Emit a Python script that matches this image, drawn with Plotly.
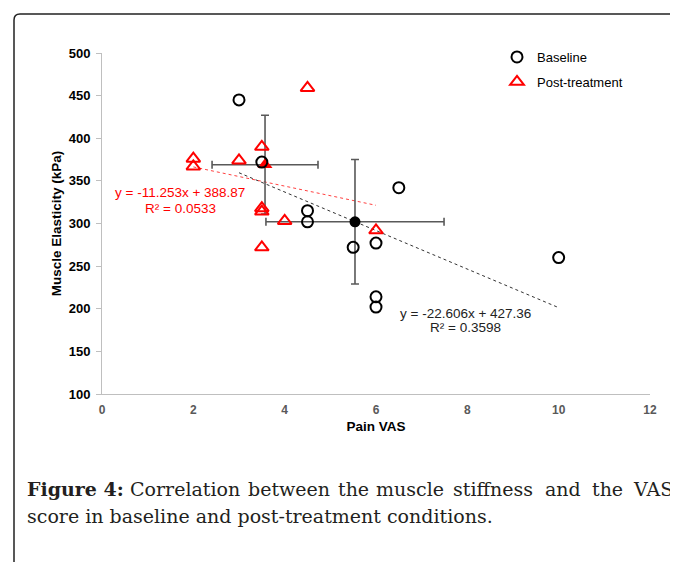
import plotly.graph_objects as go

# ---------------- data ----------------
baseline_vas = [3.0, 3.5, 4.5, 4.5, 5.5, 6.0, 6.0, 6.0, 6.5, 10.0]
baseline_kpa = [445, 372, 315, 302, 272, 277, 214, 202, 342, 260]
post_vas = [2.0, 2.0, 3.0, 3.5, 4.5, 3.5, 3.5, 3.5, 4.0, 6.0]
post_kpa = [376, 367, 374, 390, 459, 318, 314, 272, 303, 292]

baseline_mean_x = [5.54]
baseline_mean_y = [302]
baseline_sd_x = [1.95]
baseline_sd_y = [73]
post_mean_x = [3.57]
post_mean_y = [369]
post_sd_x = [1.16]
post_sd_y = [58]

baseline_fit = (-22.606, 427.36, 0.3598)
post_fit = (-11.253, 388.87, 0.0533)

x_ticks = [0, 2, 4, 6, 8, 10, 12]
y_ticks = [100, 150, 200, 250, 300, 350, 400, 450, 500]

# page body has an 8px margin; figure fills the rest of the 678x562 window
W, H = 670, 554
L, R, T, B = 94, 28, 45, 168
pw, ph = W - L - R, H - T - B


def px2paper(px, py):
    """window pixel -> paper coordinates"""
    return (px - 8 - L) / pw, (H - B - (py - 8)) / ph


fig = go.Figure()

# trendlines
def fit_line(xs, fit):
    x0, x1 = min(xs), max(xs)
    return [x0, x1], [fit[0] * x0 + fit[1], fit[0] * x1 + fit[1]]

bx, by = fit_line(baseline_vas, baseline_fit)
fig.add_trace(go.Scatter(x=bx, y=by, mode="lines", showlegend=False,
                         line=dict(color="#333333", width=1, dash="dot")))
rx, ry = fit_line(post_vas, post_fit)
fig.add_trace(go.Scatter(x=rx, y=ry, mode="lines", showlegend=False,
                         line=dict(color="#FF4040", width=1, dash="dot")))

# error bars (means)
err_style = dict(color="#595959", thickness=1.6, width=4)
fig.add_trace(go.Scatter(x=baseline_mean_x, y=baseline_mean_y, mode="markers",
                         showlegend=False,
                         marker=dict(symbol="circle", size=11, color="black"),
                         error_x=dict(type="data", array=baseline_sd_x, **err_style),
                         error_y=dict(type="data", array=baseline_sd_y, **err_style)))
fig.add_trace(go.Scatter(x=post_mean_x, y=post_mean_y, mode="markers",
                         showlegend=False,
                         marker=dict(symbol="triangle-up", size=13, color="#FF0000"),
                         error_x=dict(type="data", array=post_sd_x, **err_style),
                         error_y=dict(type="data", array=post_sd_y, **err_style)))

# individual points
fig.add_trace(go.Scatter(x=baseline_vas, y=baseline_kpa, mode="markers",
                         name="Baseline", legendgroup="a",
                         marker=dict(symbol="circle-open", size=11, color="black",
                                     line=dict(width=2, color="black"))))
fig.add_trace(go.Scatter(x=post_vas, y=post_kpa, mode="markers",
                         name="Post-treatment", legendgroup="b",
                         marker=dict(symbol="triangle-up-open", size=12, color="#FF0000",
                                     line=dict(width=2, color="#FF0000"))))

# equations
eq_font = "Liberation Sans, Arial"
fig.add_annotation(x=1.71, y=336, xref="x", yref="y", showarrow=False,
                   text=f"y = {post_fit[0]}x + {post_fit[1]}",
                   font=dict(family=eq_font, size=13.5, color="#FF0000"))
fig.add_annotation(x=1.71, y=317.5, xref="x", yref="y", showarrow=False,
                   text=f"R² = {post_fit[2]}",
                   font=dict(family=eq_font, size=13.5, color="#FF0000"))
fig.add_annotation(x=7.95, y=195, xref="x", yref="y", showarrow=False,
                   text=f"y = {baseline_fit[0]}x + {baseline_fit[1]}",
                   font=dict(family=eq_font, size=13.5, color="#222222"))
fig.add_annotation(x=7.95, y=177.5, xref="x", yref="y", showarrow=False,
                   text=f"R² = {baseline_fit[2]}",
                   font=dict(family=eq_font, size=13.5, color="#222222"))

# frame
x0, y0 = px2paper(14, 600)
x1, y1 = px2paper(14, 20)
xr, yt = px2paper(20, 14)
xe, _ = px2paper(700, 14)
fig.add_shape(type="path", xref="paper", yref="paper",
              path=f"M {x0},{y0} L {x1},{y1} Q {x1},{yt} {xr},{yt} L {xe},{yt}",
              line=dict(color="#222222", width=1.5))

# caption (justified first line)
cap_font = dict(family="DejaVu Serif, Liberation Serif, serif", size=19, color="#231f20")
words = ["<b>Figure 4:</b>", "Correlation", "between", "the", "muscle", "stiffness", "and", "the"]
starts = [25, 128, 246, 336, 374, 451, 543, 590]
for wtxt, sx in zip(words, starts):
    xp, yp = px2paper(sx, 489)
    fig.add_annotation(x=xp, y=yp, xref="paper", yref="paper", showarrow=False,
                       text=wtxt, font=cap_font, xanchor="left", yanchor="middle")
xp, yp = px2paper(675, 489)
fig.add_annotation(x=xp, y=yp, xref="paper", yref="paper", showarrow=False,
                   text="VAS", font=cap_font, xanchor="right", yanchor="middle")
xp, yp = px2paper(25, 516)
fig.add_annotation(x=xp, y=yp, xref="paper", yref="paper", showarrow=False,
                   text="score in baseline and post-treatment conditions.",
                   font=cap_font, xanchor="left", yanchor="middle")

lx, ly = px2paper(497, 42)
fig.update_layout(
    width=W, height=H,
    margin=dict(l=L, r=R, t=T, b=B, autoexpand=False),
    paper_bgcolor="white", plot_bgcolor="white",
    font=dict(family="Liberation Sans, Arial", size=12, color="#000000"),
    legend=dict(x=lx, y=ly, xanchor="left", yanchor="top", bgcolor="rgba(0,0,0,0)",
                font=dict(size=13, color="#000000"), tracegroupgap=5,
                traceorder="grouped"),
    xaxis=dict(range=[0, 12], tickvals=x_ticks, showgrid=False, zeroline=False,
               showline=True, linecolor="#BFBFBF", linewidth=1, ticks="",
               ticklabelstandoff=5,
               tickfont=dict(family="Liberation Sans, Arial", size=12, color="#595959", weight="bold"),
               title=dict(text="<b>Pain VAS</b>", standoff=5,
                          font=dict(size=13.5, color="#000000"))),
    yaxis=dict(range=[100, 500], tickvals=y_ticks, showgrid=False, zeroline=False,
               showline=True, linecolor="#BFBFBF", linewidth=1, ticks="outside",
               ticklen=5, tickcolor="#BFBFBF", ticklabelstandoff=3,
               tickfont=dict(family="Liberation Sans, Arial", size=13, color="#000000", weight="bold"),
               title=dict(text="<b>Muscle Elasticity (kPa)</b>", standoff=3,
                          font=dict(size=13.5, color="#000000"))),
)

fig.write_html("out.html")
